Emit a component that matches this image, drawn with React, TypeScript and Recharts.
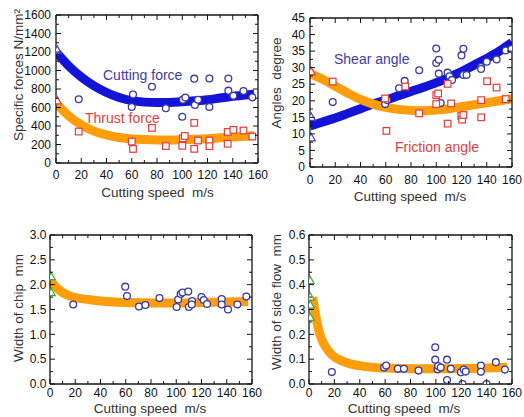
import React from 'react';
import { ComposedChart, XAxis, YAxis, Line, Scatter } from 'recharts';

const FONT = '"Liberation Sans", Arial, Helvetica, sans-serif';

// ---------- shared axis ticks ----------
const speedTicks = [0, 10, 20, 30, 40, 50, 60, 70, 80, 90, 100, 110, 120, 130, 140, 150, 160];
const speedLabels = [0, 20, 40, 60, 80, 100, 120, 140, 160];

const forceTicks = [0, 100, 200, 300, 400, 500, 600, 700, 800, 900, 1000, 1100, 1200, 1300, 1400, 1500, 1600];
const forceLabels = [0, 200, 400, 600, 800, 1000, 1200, 1400, 1600];

const angleTicks = [0, 2.5, 5, 7.5, 10, 12.5, 15, 17.5, 20, 22.5, 25, 27.5, 30, 32.5, 35, 37.5, 40, 42.5, 45];
const angleLabels = [0, 5, 10, 15, 20, 25, 30, 35, 40, 45];

const chipTicks = [0, 0.25, 0.5, 0.75, 1, 1.25, 1.5, 1.75, 2, 2.25, 2.5, 2.75, 3];
const chipLabels = [0, 0.5, 1, 1.5, 2, 2.5, 3];

const sideTicks = [0, 0.05, 0.1, 0.15, 0.2, 0.25, 0.3, 0.35, 0.4, 0.45, 0.5, 0.55, 0.6];
const sideLabels = [0, 0.1, 0.2, 0.3, 0.4, 0.5, 0.6];

// ---------- panel 1: specific forces ----------
const cuttingForcePts: [number, number][] = [
  [18, 690], [60, 605], [61, 740], [76, 825], [87, 592], [100, 500], [100.5, 685], [102.5, 708],
  [109.5, 912], [110, 628], [112.5, 684], [121.5, 914], [121.5, 605], [136.5, 914], [136.5, 782],
  [140.5, 726], [148.5, 778], [155.5, 710],
];
const cuttingForceStatic: [number, number][] = [[1, 1220]];
const thrustForcePts: [number, number][] = [
  [18, 340], [60, 232], [61, 152], [76, 380], [87, 183], [100, 186], [100.5, 268], [102, 292],
  [109.5, 434], [109.5, 153], [112.5, 243], [121.5, 243], [121.5, 182], [136, 336], [136, 208],
  [140.5, 358], [148.5, 351], [155.5, 286],
];
const thrustForceStatic: [number, number][] = [[1, 672]];
const cuttingForceFit: [number, number][] = [
  [0, 1200], [10, 1050], [20, 930], [30, 835], [40, 762], [50, 708], [60, 674], [70, 658], [80, 653],
  [90, 654], [100, 662], [110, 672], [120, 684], [130, 702], [140, 720], [150, 734], [157, 746],
];
const thrustForceFit: [number, number][] = [
  [0, 645], [10, 510], [20, 412], [30, 345], [40, 303], [50, 275], [60, 260], [70, 253], [80, 249],
  [90, 248], [100, 251], [110, 256], [120, 263], [130, 272], [140, 281], [150, 290], [157, 296],
];

// ---------- panel 2: angles ----------
const shearPts: [number, number][] = [
  [18, 19.6], [59.5, 19.0], [61, 20.2], [70.5, 23.8], [75, 26], [86.5, 29.2], [100, 35.8], [100, 31.4],
  [102, 32.4], [102, 28.2], [103.5, 19.3], [109, 28.5], [110.5, 27.4], [112.5, 26.3], [120, 33.7],
  [121.5, 35.7], [121.5, 27.8], [124, 27.8], [135.5, 30.2], [135.5, 29.6], [140, 31.8], [147.8, 32.5],
  [155, 35.2], [159.5, 35.6],
];
const shearStatic: [number, number][] = [[1, 15], [1, 8.8]];
const frictionPts: [number, number][] = [
  [18, 25.8], [59.5, 20.7], [60.5, 10.9], [75.5, 24.3], [86.5, 16.2], [100, 21.7], [100, 19],
  [101.5, 22.2], [109, 25.1], [109, 13.1], [111.8, 19.2], [119.8, 15.4], [120.5, 14.3], [121.5, 15.7],
  [135.6, 20.2], [135.6, 15], [140.3, 25.9], [147.8, 24], [155, 20.5],
];
const frictionStatic: [number, number][] = [[1, 28.8]];
const shearFit: [number, number][] = [
  [0, 12.4], [10, 13.6], [20, 14.8], [30, 16.2], [40, 17.6], [50, 19], [60, 20.2], [70, 21.5], [80, 22.8],
  [90, 24.1], [100, 25.5], [110, 27.1], [120, 28.8], [130, 30.8], [140, 32.8], [150, 35], [160, 37.6],
];
const frictionFit: [number, number][] = [
  [0, 28.2], [10, 26.5], [20, 24.4], [30, 22.3], [40, 20.4], [50, 19], [60, 18], [70, 17.4], [80, 17.1],
  [90, 17], [100, 17.2], [110, 17.6], [120, 18.2], [130, 18.8], [140, 19.4], [150, 20], [160, 20.6],
];

// ---------- panel 3: width of chip ----------
const chipPts: [number, number][] = [
  [18.4, 1.6], [59.6, 1.96], [61, 1.77], [70.5, 1.56], [75.5, 1.59], [86.7, 1.73], [100.3, 1.55],
  [101.5, 1.7], [103.5, 1.81], [105, 1.84], [109.5, 1.86], [110, 1.55], [112.5, 1.67], [112.3, 1.6],
  [120, 1.75], [121.8, 1.69], [124.4, 1.61], [136, 1.71], [136, 1.6], [141, 1.5], [148.4, 1.6],
  [155.5, 1.76],
];
const chipStatic: [number, number][] = [[1, 2.16], [1, 1.84]];
const chipFit: [number, number][] = [
  [0, 2.1], [3, 2.0], [6, 1.92], [10, 1.84], [15, 1.78], [20, 1.74], [30, 1.7], [40, 1.67], [60, 1.64],
  [80, 1.63], [100, 1.63], [120, 1.64], [140, 1.65], [157, 1.66],
];

// ---------- panel 4: width of side flow ----------
const sidePts: [number, number][] = [
  [18, 0.048], [59.2, 0.066], [60.8, 0.074], [70, 0.061], [74.8, 0.061], [86.3, 0.054], [99.5, 0.148],
  [99.5, 0.098], [101.3, 0.059], [101.8, 0.072], [103.8, 0.066], [108.8, 0.098], [108.8, 0.016],
  [111.8, 0.061], [119.7, 0.047], [121, 0.0], [122, 0.058], [123.5, 0.05], [135.5, 0.074],
  [135.5, 0.049], [139.9, 0.0], [147.3, 0.088], [154.4, 0.058],
];
const sideStatic: [number, number][] = [[1, 0.416], [1, 0.35], [1, 0.318], [1, 0.268]];
const sideFit: [number, number][] = [
  [3, 0.35], [4.5, 0.3], [6, 0.255], [8, 0.21], [10, 0.18], [13, 0.15], [18, 0.117], [25, 0.095],
  [32, 0.082], [45, 0.07], [60, 0.064], [80, 0.061], [100, 0.061], [120, 0.062], [140, 0.064], [156, 0.067],
];

// ---------- styles ----------
const BLUE_LINE = '#1414d8';
const ORANGE_LINE = '#ff9d0a';
const CIRCLE = '#3a3aa0';
const SQUARE = '#e23c3c';
const GREEN = '#3caa3c';
const FRAME = '#151515';

const toPts = (a: [number, number][]) => a.map(([x, y]) => ({ x, y }));

const CircleShape = (color: string) => (p: any) => (
  <circle cx={p.cx} cy={p.cy} r={3.4} fill="#ffffff" stroke={color} strokeWidth={1.3} />
);
const SquareShape = (color: string) => (p: any) => (
  <rect x={p.cx - 3.3} y={p.cy - 3.3} width={6.6} height={6.6} fill="#ffffff" stroke={color} strokeWidth={1.2} />
);
const TriShape = (color: string) => (p: any) => (
  <polygon
    points={`${p.cx},${p.cy - 4.3} ${p.cx - 4},${p.cy + 3} ${p.cx + 4},${p.cy + 3}`}
    fill="#ffffff"
    stroke={color}
    strokeWidth={1.2}
  />
);

type Box = { L: number; R: number; T: number; B: number };

type PanelProps = {
  box: Box;
  yDomain: [number, number];
  yTicks: number[];
  yLabels: number[];
  yFmt: (v: number) => string;
  xLabelDy: number;
  yLabelDx: number;
  fits: { data: [number, number][]; color: string }[];
  marks: { data: [number, number][]; shape: (p: any) => React.ReactElement }[];
};

const isIn = (v: number, arr: number[]) => arr.some((a) => Math.abs(a - v) < 1e-9);

function Panel({ box, yDomain, yTicks, yLabels, yFmt, xLabelDy, yLabelDx, fits, marks }: PanelProps) {
  const { L, R, T, B } = box;
  const axisLine = { stroke: FRAME, strokeWidth: 1.3 };
  const bottomTick = (p: any) => {
    const v = p.payload.value;
    const x = p.x;
    const major = isIn(v, speedLabels);
    return (
      <g>
        <line x1={x} x2={x} y1={B} y2={B - (major ? 5 : 3)} stroke={FRAME} strokeWidth={1} />
        {major && (
          <text x={x} y={B + xLabelDy} textAnchor="middle" fontSize={12} fontFamily={FONT} fill="#111">
            {String(v)}
          </text>
        )}
      </g>
    );
  };
  const topTick = (p: any) => {
    const v = p.payload.value;
    const x = p.x;
    const major = isIn(v, speedLabels);
    return <line x1={x} x2={x} y1={T} y2={T + (major ? 5 : 3)} stroke={FRAME} strokeWidth={1} />;
  };
  const leftTick = (p: any) => {
    const v = p.payload.value;
    const y = p.y;
    const major = isIn(v, yLabels);
    return (
      <g>
        <line x1={L} x2={L + (major ? 5 : 3)} y1={y} y2={y} stroke={FRAME} strokeWidth={1} />
        {major && (
          <text x={L - yLabelDx} y={y + 4.2} textAnchor="end" fontSize={12} fontFamily={FONT} fill="#111">
            {yFmt(v)}
          </text>
        )}
      </g>
    );
  };
  const rightTick = (p: any) => {
    const v = p.payload.value;
    const y = p.y;
    const major = isIn(v, yLabels);
    return <line x1={R} x2={R - (major ? 5 : 3)} y1={y} y2={y} stroke={FRAME} strokeWidth={1} />;
  };
  return (
    <div style={{ position: 'absolute', left: 0, top: 0, width: 524, height: 417 }}>
      <ComposedChart
        width={524}
        height={417}
        margin={{ top: T - 1, left: L - 1, right: 524 - R - 1, bottom: 417 - B - 1 }}
      >
        <XAxis
          xAxisId="b"
          type="number"
          dataKey="x"
          domain={[0, 160]}
          allowDataOverflow
          ticks={speedTicks}
          interval={0}
          height={1}
          tickSize={0}
          tickMargin={0}
          axisLine={axisLine}
          tickLine={false}
          tick={bottomTick}
        />
        <XAxis
          xAxisId="t"
          orientation="top"
          type="number"
          dataKey="x"
          domain={[0, 160]}
          allowDataOverflow
          ticks={speedTicks}
          interval={0}
          height={1}
          tickSize={0}
          tickMargin={0}
          axisLine={axisLine}
          tickLine={false}
          tick={topTick}
        />
        <YAxis
          yAxisId="l"
          type="number"
          dataKey="y"
          domain={yDomain}
          allowDataOverflow
          ticks={yTicks}
          interval={0}
          width={1}
          tickSize={0}
          tickMargin={0}
          axisLine={axisLine}
          tickLine={false}
          tick={leftTick}
        />
        <YAxis
          yAxisId="r"
          orientation="right"
          type="number"
          dataKey="y"
          domain={yDomain}
          allowDataOverflow
          ticks={yTicks}
          interval={0}
          width={1}
          tickSize={0}
          tickMargin={0}
          axisLine={axisLine}
          tickLine={false}
          tick={rightTick}
        />
        {fits.map((f, i) => (
          <Line
            key={'f' + i}
            xAxisId="b"
            yAxisId="l"
            data={toPts(f.data)}
            dataKey="y"
            type="monotone"
            stroke={f.color}
            strokeWidth={9}
            dot={false}
            activeDot={false}
            isAnimationActive={false}
          />
        ))}
        {marks.map((m, i) => (
          <Scatter
            key={'m' + i}
            xAxisId="b"
            yAxisId="l"
            data={toPts(m.data)}
            shape={m.shape}
            isAnimationActive={false}
          />
        ))}
      </ComposedChart>
    </div>
  );
}

const intFmt = (v: number) => String(v);
const oneDec = (v: number) => v.toFixed(1);

export default function App() {
  const titleStyle = { fontSize: 13.5, fontFamily: FONT, fill: '#333' };
  const noteStyle = { fontSize: 14, fontFamily: FONT };
  return (
    <div style={{ position: 'absolute', left: 0, top: 0, width: 524, height: 417, background: '#ffffff' }}>
      <Panel
        box={{ L: 56, R: 258, T: 15, B: 163 }}
        yDomain={[0, 1600]}
        yTicks={forceTicks}
        yLabels={forceLabels}
        yFmt={intFmt}
        xLabelDy={16}
        yLabelDx={5}
        fits={[
          { data: cuttingForceFit, color: BLUE_LINE },
          { data: thrustForceFit, color: ORANGE_LINE },
        ]}
        marks={[
          { data: cuttingForcePts, shape: CircleShape(CIRCLE) },
          { data: thrustForcePts, shape: SquareShape(SQUARE) },
          { data: cuttingForceStatic, shape: TriShape('#4545c0') },
          { data: thrustForceStatic, shape: TriShape(SQUARE) },
        ]}
      />
      <Panel
        box={{ L: 310, R: 512, T: 18, B: 167 }}
        yDomain={[0, 45]}
        yTicks={angleTicks}
        yLabels={angleLabels}
        yFmt={intFmt}
        xLabelDy={16.5}
        yLabelDx={5}
        fits={[
          { data: shearFit, color: BLUE_LINE },
          { data: frictionFit, color: ORANGE_LINE },
        ]}
        marks={[
          { data: shearPts, shape: CircleShape(CIRCLE) },
          { data: frictionPts, shape: SquareShape(SQUARE) },
          { data: shearStatic, shape: TriShape('#4545c0') },
          { data: frictionStatic, shape: TriShape(SQUARE) },
        ]}
      />
      <Panel
        box={{ L: 50, R: 252, T: 235, B: 384 }}
        yDomain={[0, 3]}
        yTicks={chipTicks}
        yLabels={chipLabels}
        yFmt={oneDec}
        xLabelDy={13}
        yLabelDx={3.5}
        fits={[{ data: chipFit, color: ORANGE_LINE }]}
        marks={[
          { data: chipPts, shape: CircleShape(CIRCLE) },
          { data: chipStatic, shape: TriShape(GREEN) },
        ]}
      />
      <Panel
        box={{ L: 309, R: 512, T: 235, B: 384 }}
        yDomain={[0, 0.6]}
        yTicks={sideTicks}
        yLabels={sideLabels}
        yFmt={oneDec}
        xLabelDy={13}
        yLabelDx={3.5}
        fits={[{ data: sideFit, color: ORANGE_LINE }]}
        marks={[
          { data: sidePts, shape: CircleShape(CIRCLE) },
          { data: sideStatic, shape: TriShape(GREEN) },
        ]}
      />
      <svg
        width={524}
        height={417}
        style={{ position: 'absolute', left: 0, top: 0, pointerEvents: 'none' }}
      >
        <text x={157.5} y={197} textAnchor="middle" style={titleStyle} xmlSpace="preserve">Cutting speed  m/s</text>
        <text x={410} y={200.5} textAnchor="middle" style={titleStyle} xmlSpace="preserve">Cutting speed  m/s</text>
        <text x={150} y={412.5} textAnchor="middle" style={titleStyle} xmlSpace="preserve">Cutting speed  m/s</text>
        <text x={404} y={412.5} textAnchor="middle" style={titleStyle} xmlSpace="preserve">Cutting speed  m/s</text>

        <text x={23} y={75} textAnchor="middle" transform="rotate(-90 23 75)" style={titleStyle}>Specific forces N/mm²</text>
        <text x={281} y={83} textAnchor="middle" transform="rotate(-90 281 83)" style={titleStyle} xmlSpace="preserve">Angles  degree</text>
        <text x={23} y={308} textAnchor="middle" transform="rotate(-90 23 308)" style={titleStyle} xmlSpace="preserve">Width of chip  mm</text>
        <text x={281} y={302} textAnchor="middle" transform="rotate(-90 281 302)" style={titleStyle} xmlSpace="preserve">Width of side flow  mm</text>

        <text x={103} y={80} style={{ ...noteStyle, fill: '#3c3ca2' }}>Cutting force</text>
        <text x={85} y={123} style={{ ...noteStyle, fill: '#e04040' }}>Thrust force</text>
        <text x={334} y={64} style={{ ...noteStyle, fill: '#3c3ca2' }}>Shear angle</text>
        <text x={395} y={152} style={{ ...noteStyle, fill: '#e04040' }}>Friction angle</text>
      </svg>
    </div>
  );
}
